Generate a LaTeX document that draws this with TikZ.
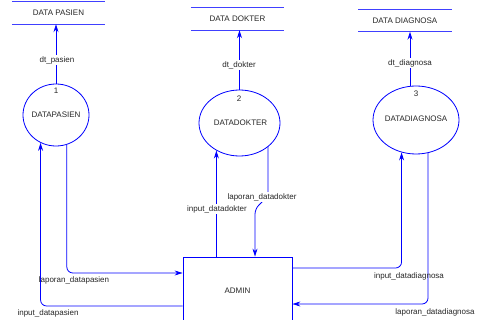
\documentclass[tikz,border=0pt]{standalone}
\usepackage{fontspec}
\setmainfont{Liberation Sans}
\usetikzlibrary{shapes.geometric,arrows.meta}
\begin{document}
\begin{tikzpicture}[x=1pt,y=-1pt,
  txt/.style={font=\fontsize{8}{9}\selectfont, text=black!85, inner sep=1pt},
  lbl/.style={txt, fill=white},
  proc/.style={ellipse, draw=blue, line width=0.8pt, inner sep=0pt},
  store/.style={txt, minimum width=93pt, minimum height=22pt, inner sep=0pt},
  storeline/.style={draw=blue!75, line width=1.3pt},
  flow/.style={draw=blue, line width=0.8pt, -{Stealth[length=8pt,width=5pt]}},
  box/.style={txt, draw=blue, line width=0.8pt, minimum width=109pt, minimum height=68pt, inner sep=0pt}
]
\useasboundingbox (0,0) rectangle (486,320);
\coordinate (y306) at (0,306);
\coordinate (y273) at (0,273);
\coordinate (y268) at (0,268);
\coordinate (y304) at (0,304);
\coordinate (b1) at (0,196);
\coordinate (b2) at (255,209);

% data stores
\node[store] (ds1) at (58.5,13) {DATA PASIEN};
\node[store] (ds2) at (237.5,19) {DATA DOKTER};
\node[store] (ds3) at (405,20.5) {DATA DIAGNOSA};
\draw[storeline] (ds1.north west) -- (ds1.north east) (ds1.south west) -- (ds1.south east);
\draw[storeline] (ds2.north west) -- (ds2.north east) (ds2.south west) -- (ds2.south east);
\draw[storeline] (ds3.north west) -- (ds3.north east) (ds3.south west) -- (ds3.south east);

% processes
\node[proc, minimum width=66pt, minimum height=62pt] (p1) at (56,115) {};
\node[txt] (p1n) at (56,91) {1};
\node[txt] (p1t) at (56,115) {DATAPASIEN};
\node[proc, minimum width=81pt, minimum height=66pt] (p2) at (239.5,123) {};
\node[txt] (p2n) at (239,99) {2};
\node[txt] (p2t) at (240.5,123) {DATADOKTER};
\node[proc, minimum width=86pt, minimum height=68pt] (p3) at (416,120) {};
\node[txt] (p3n) at (416,94) {3};
\node[txt] (p3t) at (416,119) {DATADIAGNOSA};

% admin
\node[box] (admin) at (237.5,291) {ADMIN};

% flows
\draw[flow] (p1.north) -- (p1.north |- ds1.south);
\draw[flow] (p2.north) -- (p2.north |- ds2.south);
\draw[flow] (p3.100) -- (p3.100 |- ds3.south);

\draw[flow, rounded corners=6pt] (admin.west |- y306) -| (p1.241.5);
\draw[flow, rounded corners=6pt] (p1.290.6) |- (admin.west |- y273);
\draw[flow] (p2.230.6 |- admin.north) -- (p2.230.6);
\draw[flow, rounded corners=5pt] (p2.320.6) -- (p2.320.6 |- b1) -- (b2) -- (b2 |- admin.north);
\draw[flow, rounded corners=6pt] (admin.east |- y268) -| (p3.246.4);
\draw[flow, rounded corners=6pt] (p3.290.2) |- (admin.east |- y304);

% labels
\node[lbl] (l1) at (57,60) {dt\_pasien};
\node[lbl] (l2) at (239,65) {dt\_dokter};
\node[lbl] (l3) at (410,63) {dt\_diagnosa};
\node[txt] (l4) at (48,313) {input\_datapasien};
\node[txt] (l5) at (74,280) {laporan\_datapasien};
\node[lbl] (l6) at (217,209) {input\_datadokter};
\node[lbl] (l7) at (262,197) {laporan\_datadokter};
\node[txt] (l8) at (409,276) {input\_datadiagnosa};
\node[txt] (l9) at (435,312) {laporan\_datadiagnosa};
\end{tikzpicture}
\end{document}
